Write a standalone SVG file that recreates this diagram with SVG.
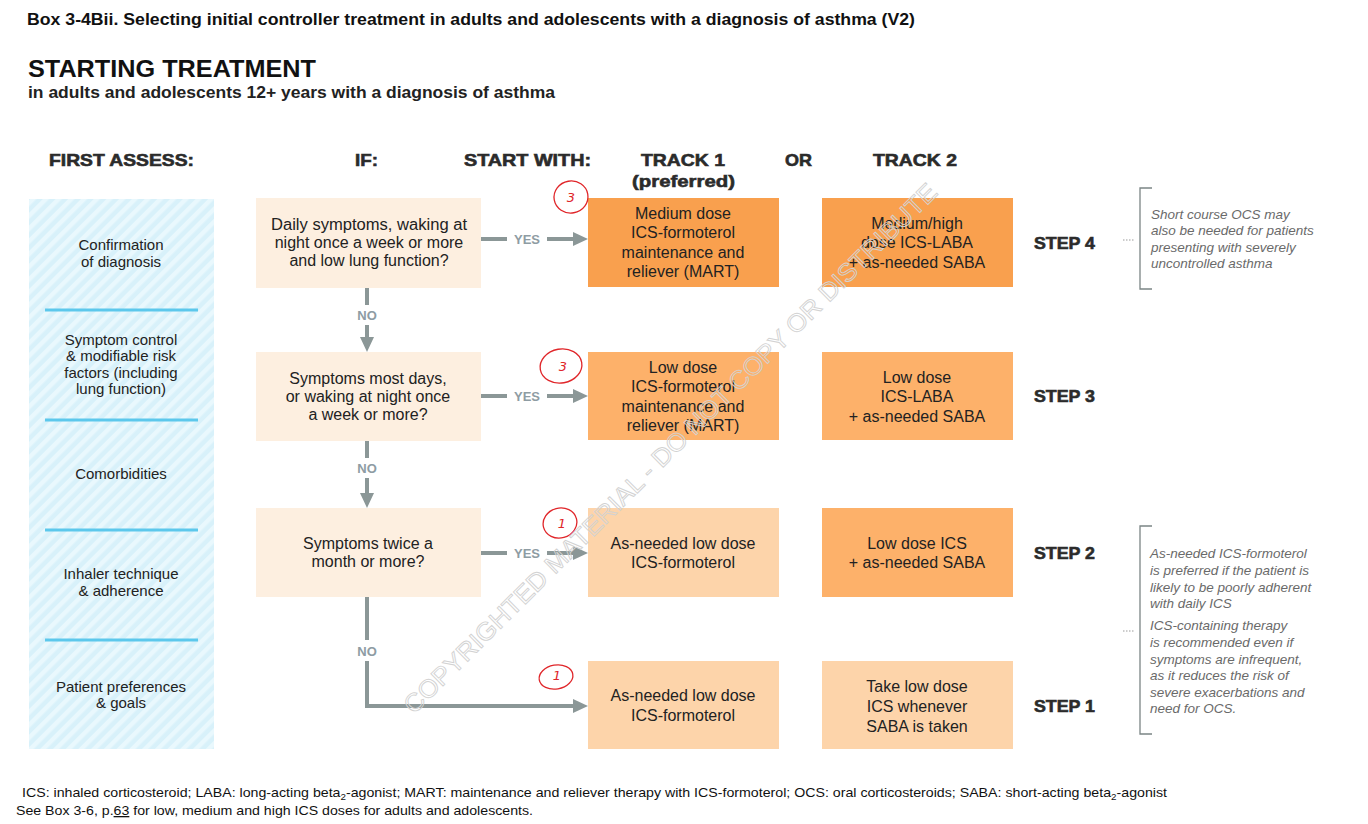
<svg xmlns="http://www.w3.org/2000/svg" width="1368" height="824" viewBox="0 0 1368 824">
<style>
text{font-family:"Liberation Sans",Arial,sans-serif;fill:#1a1a1a}
.title{font-size:16px;font-weight:bold;fill:#111}
.big{font-size:24px;font-weight:bold;fill:#111}
.sub{font-size:16px;font-weight:bold;fill:#222}
.hdr{font-size:17px;font-weight:bold;fill:#2b2b2b;stroke:#2b2b2b;stroke-width:0.6}
.lc{font-size:15px;text-anchor:middle;fill:#222}
.bx{font-size:16px;text-anchor:middle;fill:#222}
.yn{font-size:13px;font-weight:bold;fill:#8e9ca3;text-anchor:middle}
.step{font-size:17px;font-weight:bold;fill:#2b2b2b;stroke:#2b2b2b;stroke-width:0.6}
.note{font-size:13.5px;font-style:italic;fill:#6a6a6a}
.foot{font-size:13px;fill:#111}
.q{fill:#fdefe0}
.o4{fill:#f9a04e}
.o3{fill:#fdb16a}
.o1{fill:#fdd4aa}
.conn{stroke:#8b9797;stroke-width:4;fill:none}
.sep{stroke:#5cc8ec;stroke-width:3}
.brk{stroke:#7b8585;stroke-width:1.3;fill:none}
.dots{stroke:#9a9a9a;stroke-width:1;stroke-dasharray:1.5 1.5}
.red{fill:none;stroke:#e0262a;stroke-width:1.3}
.rn{font-family:"DejaVu Sans",sans-serif;font-size:13px;font-style:italic;fill:#e0262a;text-anchor:middle}
.wm{font-size:25px;fill:none;stroke:#d2d2d2;stroke-width:0.9;text-anchor:middle}
</style>
<defs>
<pattern id="stripes" width="9" height="9" patternUnits="userSpaceOnUse" patternTransform="rotate(45)">
<rect width="9" height="9" fill="#d8f1fa"/>
<rect width="4.5" height="9" fill="#e9f8fd"/>
</pattern>
<marker id="ah" markerUnits="userSpaceOnUse" markerWidth="16" markerHeight="15" refX="3" refY="7" orient="auto">
<path d="M0,0 L15,7 L0,14 z" fill="#8b9797"/>
</marker>
</defs>

<g id="titles">
<text class="title" x="27" y="25" textLength="888" lengthAdjust="spacingAndGlyphs">Box 3-4Bii. Selecting initial controller treatment in adults and adolescents with a diagnosis of asthma (V2)</text>
<text class="big" x="28" y="77" textLength="288" lengthAdjust="spacingAndGlyphs">STARTING TREATMENT</text>
<text class="sub" x="28" y="98" textLength="527" lengthAdjust="spacingAndGlyphs">in adults and adolescents 12+ years with a diagnosis of asthma</text>
</g>

<g id="headers">
<text class="hdr" x="49" y="166" textLength="145" lengthAdjust="spacingAndGlyphs">FIRST ASSESS:</text>
<text class="hdr" x="355" y="166" textLength="23" lengthAdjust="spacingAndGlyphs">IF:</text>
<text class="hdr" x="464" y="166" textLength="127" lengthAdjust="spacingAndGlyphs">START WITH:</text>
<text class="hdr" x="641" y="166" textLength="84" lengthAdjust="spacingAndGlyphs">TRACK 1</text>
<text class="hdr" x="632" y="187" textLength="103" lengthAdjust="spacingAndGlyphs">(preferred)</text>
<text class="hdr" x="785" y="166" textLength="27" lengthAdjust="spacingAndGlyphs">OR</text>
<text class="hdr" x="873" y="166" textLength="84" lengthAdjust="spacingAndGlyphs">TRACK 2</text>
</g>

<g id="assess-column">
<rect x="29" y="199" width="185" height="550" fill="url(#stripes)"/>
<line class="sep" x1="45" y1="310" x2="198" y2="310"/>
<line class="sep" x1="45" y1="420" x2="198" y2="420"/>
<line class="sep" x1="45" y1="530" x2="198" y2="530"/>
<line class="sep" x1="45" y1="640" x2="198" y2="640"/>
<text class="lc" x="121" y="250">Confirmation</text>
<text class="lc" x="121" y="267">of diagnosis</text>
<text class="lc" x="121" y="345">Symptom control</text>
<text class="lc" x="121" y="361">&amp; modifiable risk</text>
<text class="lc" x="121" y="378">factors (including</text>
<text class="lc" x="121" y="394">lung function)</text>
<text class="lc" x="121" y="479">Comorbidities</text>
<text class="lc" x="121" y="579">Inhaler technique</text>
<text class="lc" x="121" y="596">&amp; adherence</text>
<text class="lc" x="121" y="692">Patient preferences</text>
<text class="lc" x="121" y="708">&amp; goals</text>
</g>

<g id="q1">
<rect class="q" x="256" y="198" width="225" height="90"/>
<text class="bx" x="369" y="230" textLength="196" lengthAdjust="spacingAndGlyphs">Daily symptoms, waking at</text>
<text class="bx" x="369" y="248">night once a week or more</text>
<text class="bx" x="369" y="266">and low lung function?</text>
</g>
<g id="q2">
<rect class="q" x="256" y="352" width="225" height="89"/>
<text class="bx" x="368" y="384">Symptoms most days,</text>
<text class="bx" x="368" y="402">or waking at night once</text>
<text class="bx" x="368" y="420">a week or more?</text>
</g>
<g id="q3">
<rect class="q" x="256" y="508" width="225" height="89"/>
<text class="bx" x="368" y="549">Symptoms twice a</text>
<text class="bx" x="368" y="567">month or more?</text>
</g>

<g id="t1-step4">
<rect class="o4" x="588" y="198" width="191" height="89"/>
<text class="bx" x="683" y="219">Medium dose</text>
<text class="bx" x="683" y="238">ICS-formoterol</text>
<text class="bx" x="683" y="258">maintenance and</text>
<text class="bx" x="683" y="277">reliever (MART)</text>
</g>
<g id="t1-step3">
<rect class="o3" x="588" y="352" width="191" height="88"/>
<text class="bx" x="683" y="373">Low dose</text>
<text class="bx" x="683" y="392">ICS-formoterol</text>
<text class="bx" x="683" y="412">maintenance and</text>
<text class="bx" x="683" y="431">reliever (MART)</text>
</g>
<g id="t1-step2">
<rect class="o1" x="588" y="508" width="191" height="89"/>
<text class="bx" x="683" y="549">As-needed low dose</text>
<text class="bx" x="683" y="568">ICS-formoterol</text>
</g>
<g id="t1-step1">
<rect class="o1" x="588" y="661" width="191" height="88"/>
<text class="bx" x="683" y="701">As-needed low dose</text>
<text class="bx" x="683" y="721">ICS-formoterol</text>
</g>

<g id="t2-step4">
<rect class="o4" x="822" y="198" width="191" height="89"/>
<text class="bx" x="917" y="229">Medium/high</text>
<text class="bx" x="917" y="248">dose ICS-LABA</text>
<text class="bx" x="917" y="268">+ as-needed SABA</text>
</g>
<g id="t2-step3">
<rect class="o3" x="822" y="352" width="191" height="88"/>
<text class="bx" x="917" y="383">Low dose</text>
<text class="bx" x="917" y="402">ICS-LABA</text>
<text class="bx" x="917" y="422">+ as-needed SABA</text>
</g>
<g id="t2-step2">
<rect class="o3" x="822" y="508" width="191" height="89"/>
<text class="bx" x="917" y="549">Low dose ICS</text>
<text class="bx" x="917" y="568">+ as-needed SABA</text>
</g>
<g id="t2-step1">
<rect class="o1" x="822" y="661" width="191" height="88"/>
<text class="bx" x="917" y="692">Take low dose</text>
<text class="bx" x="917" y="712">ICS whenever</text>
<text class="bx" x="917" y="732">SABA is taken</text>
</g>

<g id="steps">
<text class="step" x="1034" y="249" textLength="61" lengthAdjust="spacingAndGlyphs">STEP 4</text>
<text class="step" x="1034" y="402" textLength="61" lengthAdjust="spacingAndGlyphs">STEP 3</text>
<text class="step" x="1034" y="559" textLength="61" lengthAdjust="spacingAndGlyphs">STEP 2</text>
<text class="step" x="1034" y="712" textLength="61" lengthAdjust="spacingAndGlyphs">STEP 1</text>
</g>

<g id="note-top">
<line class="dots" x1="1123" y1="240" x2="1135" y2="240"/>
<path class="brk" d="M1152,188 H1140 V289 H1152"/>
<text class="note" x="1151" y="219">Short course OCS may</text>
<text class="note" x="1151" y="235">also be needed for patients</text>
<text class="note" x="1151" y="252">presenting with severely</text>
<text class="note" x="1151" y="268">uncontrolled asthma</text>
</g>

<g id="note-bottom">
<line class="dots" x1="1123" y1="631" x2="1135" y2="631"/>
<path class="brk" d="M1152,526 H1140 V734 H1152"/>
<text class="note" x="1150" y="558">As-needed ICS-formoterol</text>
<text class="note" x="1150" y="575">is preferred if the patient is</text>
<text class="note" x="1150" y="592">likely to be poorly adherent</text>
<text class="note" x="1150" y="608">with daily ICS</text>
<text class="note" x="1150" y="630">ICS-containing therapy</text>
<text class="note" x="1150" y="647">is recommended even if</text>
<text class="note" x="1150" y="664">symptoms are infrequent,</text>
<text class="note" x="1150" y="680">as it reduces the risk of</text>
<text class="note" x="1150" y="697">severe exacerbations and</text>
<text class="note" x="1150" y="713">need for OCS.</text>
</g>

<g id="connectors">
<line class="conn" x1="481" y1="239" x2="507" y2="239"/>
<line class="conn" x1="547" y1="239" x2="576" y2="239" marker-end="url(#ah)"/>
<text class="yn" x="527" y="244">YES</text>
<line class="conn" x1="481" y1="396" x2="507" y2="396"/>
<line class="conn" x1="547" y1="396" x2="576" y2="396" marker-end="url(#ah)"/>
<text class="yn" x="527" y="401">YES</text>
<line class="conn" x1="481" y1="553" x2="507" y2="553"/>
<line class="conn" x1="547" y1="553" x2="576" y2="553" marker-end="url(#ah)"/>
<text class="yn" x="527" y="558">YES</text>
<line class="conn" x1="367" y1="288" x2="367" y2="305"/>
<text class="yn" x="367" y="320">NO</text>
<line class="conn" x1="367" y1="325" x2="367" y2="340" marker-end="url(#ah)"/>
<line class="conn" x1="367" y1="441" x2="367" y2="458"/>
<text class="yn" x="367" y="473">NO</text>
<line class="conn" x1="367" y1="478" x2="367" y2="496" marker-end="url(#ah)"/>
<line class="conn" x1="367" y1="597" x2="367" y2="640"/>
<text class="yn" x="367" y="656">NO</text>
<path class="conn" d="M367,661 V706 H576" marker-end="url(#ah)"/>
</g>

<g id="annotations">
<ellipse class="red" cx="571" cy="197" rx="17" ry="16" transform="rotate(-10 571 197)"/>
<text class="rn" x="571" y="202">3</text>
<ellipse class="red" cx="561" cy="366" rx="21" ry="17" transform="rotate(-10 561 366)"/>
<text class="rn" x="563" y="371">3</text>
<ellipse class="red" cx="560" cy="523" rx="17" ry="15" transform="rotate(-15 560 523)"/>
<text class="rn" x="562" y="528">1</text>
<ellipse class="red" cx="556" cy="677" rx="17" ry="12" transform="rotate(-10 556 677)"/>
<text class="rn" x="557" y="680">1</text>
</g>

<g id="watermark">
<text class="wm" transform="translate(670,448) rotate(-44.8)" x="0" y="9" textLength="740" lengthAdjust="spacingAndGlyphs">COPYRIGHTED MATERIAL - DO NOT COPY OR DISTRIBUTE</text>
</g>

<g id="footer">
<text class="foot" x="22" y="797" textLength="1145" lengthAdjust="spacingAndGlyphs">ICS: inhaled corticosteroid; LABA: long-acting beta<tspan font-size="9" dy="3">2</tspan><tspan dy="-3">-agonist; MART: maintenance and reliever therapy with ICS-formoterol; OCS: oral corticosteroids; SABA: short-acting beta</tspan><tspan font-size="9" dy="3">2</tspan><tspan dy="-3">-agonist</tspan></text>
<text class="foot" x="16" y="815" textLength="517" lengthAdjust="spacingAndGlyphs">See Box 3-6, p.<tspan text-decoration="underline">63</tspan> for low, medium and high ICS doses for adults and adolescents.</text>
</g>
</svg>
